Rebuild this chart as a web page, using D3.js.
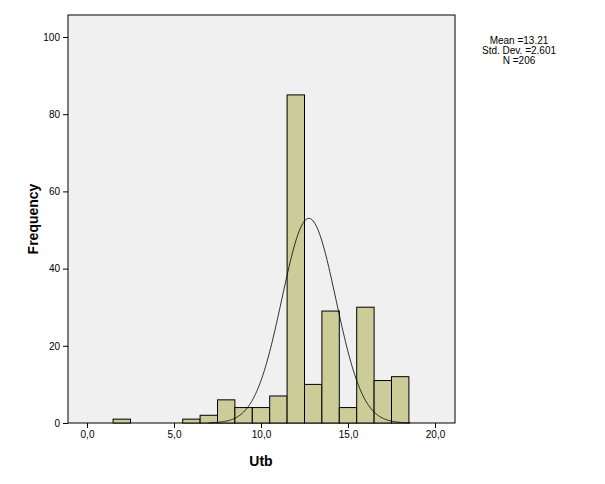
<!DOCTYPE html><html><head><script src="https://d3js.org/d3.v7.min.js"></script>
<style>body{margin:0;background:#fff}text{font-family:"Liberation Sans",Arial,sans-serif}</style></head><body>
<script>
const binCenters=[2,6,7,8,9,10,11,12,13,14,15,16,17,18];
const counts=[1,1,2,6,4,4,7,85,10,29,4,30,11,12];
const xTicks=[0,5,10,15,20];
const yTicks=[0,20,40,60,80,100];
const curveMean=12.75, curveSd=1.55, N=206;
const statsLines=["Mean =13.21","Std. Dev. =2.601","N =206"];

const W=605,H=484;
const svg=d3.select("body").append("svg").attr("width",W).attr("height",H);
const L=68,R=455,T=15,B=423;
const x=d3.scaleLinear().domain([0,20]).range([87,435]);
const y=d3.scaleLinear().domain([0,100]).range([423,37]);
svg.append("rect").attr("x",L).attr("y",T).attr("width",R-L).attr("height",B-T).attr("fill","#f0f0f0").attr("stroke","#000");
svg.selectAll(".bar").data(binCenters).enter().append("rect")
 .attr("x",(d)=>x(d-0.5)).attr("width",(d)=>x(d+0.5)-x(d-0.5))
 .attr("y",(d,i)=>y(counts[i])).attr("height",(d,i)=>y(0)-y(counts[i]))
 .attr("fill","#cccc99").attr("stroke","#000").attr("stroke-width",1);
const pts=d3.range(7,18.6,0.05).map(v=>[v,N/(curveSd*Math.sqrt(2*Math.PI))*Math.exp(-0.5*((v-curveMean)/curveSd)**2)]);
svg.append("path").attr("d",d3.line().x(d=>x(d[0])).y(d=>y(d[1])).curve(d3.curveBasis)(pts)).attr("fill","none").attr("stroke","#000").attr("stroke-width",0.8);
const xa=svg.append("g").attr("transform",`translate(0,${B})`).call(d3.axisBottom(x).tickValues(xTicks).tickFormat(d=>d.toFixed(1).replace(".",",")).tickSize(5).tickSizeOuter(0));
xa.select(".domain").remove();
const ya=svg.append("g").attr("transform",`translate(${L},0)`).call(d3.axisLeft(y).tickValues(yTicks).tickSize(5).tickSizeOuter(0));
ya.select(".domain").remove();
svg.selectAll(".tick text").attr("font-size",10).attr("fill","#000");
svg.append("text").attr("x",261).attr("y",466).attr("text-anchor","middle").attr("font-weight","bold").attr("font-size",14).text("Utb");
svg.append("text").attr("transform","translate(38,219) rotate(-90)").attr("text-anchor","middle").attr("font-weight","bold").attr("font-size",14).text("Frequency");
statsLines.forEach((s,i)=>svg.append("text").attr("x",519).attr("y",44+i*10).attr("text-anchor","middle").attr("font-size",10).text(s));
</script></body></html>
